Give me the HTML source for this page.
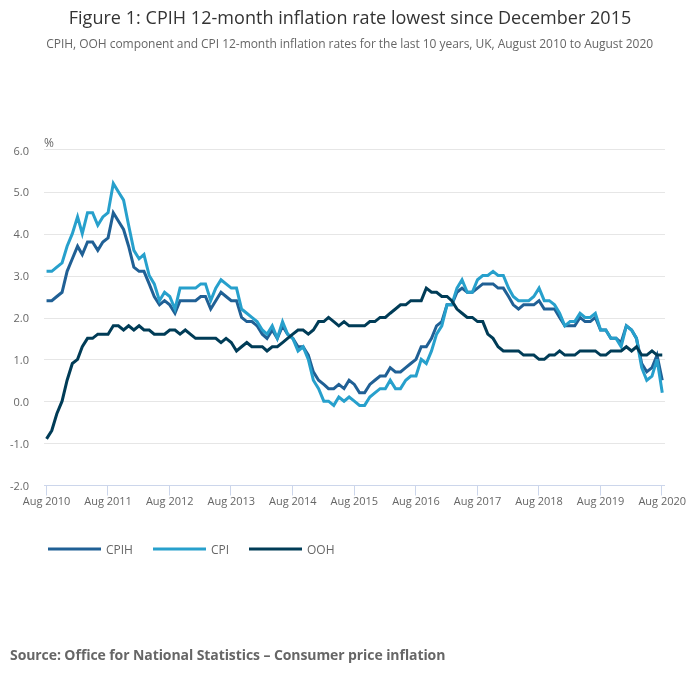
<!DOCTYPE html>
<html><head><meta charset="utf-8"><style>
html,body{margin:0;padding:0;background:#fff;width:700px;height:682px;overflow:hidden}
svg{display:block;will-change:transform;font-family:"Open Sans","Liberation Sans",sans-serif}
</style></head><body>
<svg width="700" height="682" viewBox="0 0 700 682">
<rect width="700" height="682" fill="#fff"/>
<text x="350" y="24" text-anchor="middle" font-size="18" textLength="562.6" lengthAdjust="spacing" fill="#333333">Figure 1: CPIH 12-month inflation rate lowest since December 2015</text>
<text x="349.7" y="48" text-anchor="middle" font-size="12" textLength="606.9" lengthAdjust="spacing" fill="#666666">CPIH, OOH component and CPI 12-month inflation rates for the last 10 years, UK, August 2010 to August 2020</text>
<g><path d="M44 149.5 L665 149.5" stroke="#e6e6e6" stroke-width="1"/><path d="M44 192.5 L665 192.5" stroke="#e6e6e6" stroke-width="1"/><path d="M44 234.5 L665 234.5" stroke="#e6e6e6" stroke-width="1"/><path d="M44 276.5 L665 276.5" stroke="#e6e6e6" stroke-width="1"/><path d="M44 318.5 L665 318.5" stroke="#e6e6e6" stroke-width="1"/><path d="M44 359.5 L665 359.5" stroke="#e6e6e6" stroke-width="1"/><path d="M44 401.5 L665 401.5" stroke="#e6e6e6" stroke-width="1"/><path d="M44 443.5 L665 443.5" stroke="#e6e6e6" stroke-width="1"/></g>
<path d="M44 485.5 L665 485.5" stroke="#ccd6eb" stroke-width="1"/>
<g><path d="M46.5 485.5 L46.5 495.5" stroke="#ccd6eb" stroke-width="1"/><path d="M107.5 485.5 L107.5 495.5" stroke="#ccd6eb" stroke-width="1"/><path d="M169.5 485.5 L169.5 495.5" stroke="#ccd6eb" stroke-width="1"/><path d="M230.5 485.5 L230.5 495.5" stroke="#ccd6eb" stroke-width="1"/><path d="M292.5 485.5 L292.5 495.5" stroke="#ccd6eb" stroke-width="1"/><path d="M354.5 485.5 L354.5 495.5" stroke="#ccd6eb" stroke-width="1"/><path d="M415.5 485.5 L415.5 495.5" stroke="#ccd6eb" stroke-width="1"/><path d="M477.5 485.5 L477.5 495.5" stroke="#ccd6eb" stroke-width="1"/><path d="M538.5 485.5 L538.5 495.5" stroke="#ccd6eb" stroke-width="1"/><path d="M600.5 485.5 L600.5 495.5" stroke="#ccd6eb" stroke-width="1"/><path d="M661.5 485.5 L661.5 495.5" stroke="#ccd6eb" stroke-width="1"/></g>
<text x="44" y="147" font-size="12" fill="#666666" textLength="9.92">%</text>
<g font-size="11" fill="#666666"><text x="29" y="155" text-anchor="end" textLength="15.47">6.0</text><text x="29" y="196" text-anchor="end" textLength="15.47">5.0</text><text x="29" y="238" text-anchor="end" textLength="15.47">4.0</text><text x="29" y="280" text-anchor="end" textLength="15.47">3.0</text><text x="29" y="322" text-anchor="end" textLength="15.47">2.0</text><text x="29" y="364" text-anchor="end" textLength="15.47">1.0</text><text x="29" y="406" text-anchor="end" textLength="15.47">0.0</text><text x="29" y="448" text-anchor="end" textLength="19.02">-1.0</text><text x="29" y="490" text-anchor="end" textLength="19.02">-2.0</text></g>
<g font-size="11" fill="#666666"><text x="46.55" y="505" text-anchor="middle" textLength="47.7">Aug 2010</text><text x="108.07" y="505" text-anchor="middle" textLength="47.7">Aug 2011</text><text x="169.76" y="505" text-anchor="middle" textLength="47.7">Aug 2012</text><text x="231.28" y="505" text-anchor="middle" textLength="47.7">Aug 2013</text><text x="292.80" y="505" text-anchor="middle" textLength="47.7">Aug 2014</text><text x="354.32" y="505" text-anchor="middle" textLength="47.7">Aug 2015</text><text x="416.01" y="505" text-anchor="middle" textLength="47.7">Aug 2016</text><text x="477.53" y="505" text-anchor="middle" textLength="47.7">Aug 2017</text><text x="539.05" y="505" text-anchor="middle" textLength="47.7">Aug 2018</text><text x="600.57" y="505" text-anchor="middle" textLength="47.7">Aug 2019</text><text x="662.26" y="505" text-anchor="middle" textLength="47.7">Aug 2020</text></g>
<g fill="none" stroke-width="3" stroke-linejoin="miter" stroke-linecap="butt">
<path d="M46.55 300.66 L51.78 300.66 L56.83 296.48 L62.06 292.29 L67.11 271.34 L72.34 258.77 L77.56 246.21 L82.28 254.58 L87.51 242.02 L92.56 242.02 L97.79 250.40 L102.85 242.02 L108.07 237.83 L113.30 212.69 L118.35 221.07 L123.58 229.45 L128.63 246.21 L133.86 267.15 L139.08 271.34 L143.97 271.34 L149.20 283.91 L154.25 296.48 L159.48 304.85 L164.53 300.66 L169.76 304.85 L174.99 313.23 L180.04 300.66 L185.27 300.66 L190.32 300.66 L195.55 300.66 L200.77 296.48 L205.49 296.48 L210.72 309.04 L215.77 300.66 L221.00 292.29 L226.06 296.48 L231.28 300.66 L236.51 300.66 L241.56 317.42 L246.79 321.61 L251.84 321.61 L257.07 325.80 L262.29 334.18 L267.01 338.37 L272.24 329.99 L277.29 338.37 L282.52 325.80 L287.58 334.18 L292.80 338.37 L298.03 346.74 L303.08 346.74 L308.31 355.12 L313.36 371.88 L318.59 380.25 L323.81 384.44 L328.53 388.63 L333.76 388.63 L338.82 384.44 L344.04 388.63 L349.10 380.25 L354.32 384.44 L359.55 392.82 L364.60 392.82 L369.83 384.44 L374.89 380.25 L380.11 376.07 L385.34 376.07 L390.22 367.69 L395.45 371.88 L400.50 371.88 L405.73 367.69 L410.79 363.50 L416.01 359.31 L421.24 346.74 L426.29 346.74 L431.52 338.37 L436.57 325.80 L441.80 321.61 L447.02 304.85 L451.74 304.85 L456.97 292.29 L462.03 288.10 L467.25 292.29 L472.31 292.29 L477.53 288.10 L482.76 283.91 L487.81 283.91 L493.04 283.91 L498.10 288.10 L503.32 288.10 L508.55 296.48 L513.26 304.85 L518.49 309.04 L523.55 304.85 L528.77 304.85 L533.83 304.85 L539.05 300.66 L544.28 309.04 L549.33 309.04 L554.56 309.04 L559.62 317.42 L564.84 325.80 L570.07 325.80 L574.79 325.80 L580.01 317.42 L585.07 321.61 L590.29 321.61 L595.35 317.42 L600.57 329.99 L605.80 329.99 L610.86 338.37 L616.08 338.37 L621.14 342.55 L626.36 325.80 L631.59 329.99 L636.48 338.37 L641.70 363.50 L646.76 371.88 L651.98 367.69 L657.04 355.12 L662.26 380.25" stroke="#206095"/>
<path d="M46.55 271.34 L51.78 271.34 L56.83 267.15 L62.06 262.96 L67.11 246.21 L72.34 233.64 L77.56 216.88 L82.28 233.64 L87.51 212.69 L92.56 212.69 L97.79 225.26 L102.85 216.88 L108.07 212.69 L113.30 183.37 L118.35 191.75 L123.58 200.13 L128.63 225.26 L133.86 250.40 L139.08 258.77 L143.97 254.58 L149.20 275.53 L154.25 283.91 L159.48 300.66 L164.53 292.29 L169.76 296.48 L174.99 309.04 L180.04 288.10 L185.27 288.10 L190.32 288.10 L195.55 288.10 L200.77 283.91 L205.49 283.91 L210.72 300.66 L215.77 288.10 L221.00 279.72 L226.06 283.91 L231.28 288.10 L236.51 288.10 L241.56 309.04 L246.79 313.23 L251.84 317.42 L257.07 321.61 L262.29 329.99 L267.01 334.18 L272.24 325.80 L277.29 338.37 L282.52 321.61 L287.58 334.18 L292.80 338.37 L298.03 350.93 L303.08 346.74 L308.31 359.31 L313.36 380.25 L318.59 388.63 L323.81 401.20 L328.53 401.20 L333.76 405.39 L338.82 397.01 L344.04 401.20 L349.10 397.01 L354.32 401.20 L359.55 405.39 L364.60 405.39 L369.83 397.01 L374.89 392.82 L380.11 388.63 L385.34 388.63 L390.22 380.25 L395.45 388.63 L400.50 388.63 L405.73 380.25 L410.79 376.07 L416.01 376.07 L421.24 359.31 L426.29 363.50 L431.52 350.93 L436.57 334.18 L441.80 325.80 L447.02 304.85 L451.74 304.85 L456.97 288.10 L462.03 279.72 L467.25 292.29 L472.31 292.29 L477.53 279.72 L482.76 275.53 L487.81 275.53 L493.04 271.34 L498.10 275.53 L503.32 275.53 L508.55 288.10 L513.26 296.48 L518.49 300.66 L523.55 300.66 L528.77 300.66 L533.83 296.48 L539.05 288.10 L544.28 300.66 L549.33 300.66 L554.56 304.85 L559.62 313.23 L564.84 325.80 L570.07 321.61 L574.79 321.61 L580.01 313.23 L585.07 317.42 L590.29 317.42 L595.35 313.23 L600.57 329.99 L605.80 329.99 L610.86 338.37 L616.08 338.37 L621.14 346.74 L626.36 325.80 L631.59 329.99 L636.48 338.37 L641.70 367.69 L646.76 380.25 L651.98 376.07 L657.04 359.31 L662.26 392.82" stroke="#27a0cc"/>
<path d="M46.55 438.90 L51.78 430.52 L56.83 413.77 L62.06 401.20 L67.11 380.25 L72.34 363.50 L77.56 359.31 L82.28 346.74 L87.51 338.37 L92.56 338.37 L97.79 334.18 L102.85 334.18 L108.07 334.18 L113.30 325.80 L118.35 325.80 L123.58 329.99 L128.63 325.80 L133.86 329.99 L139.08 325.80 L143.97 329.99 L149.20 329.99 L154.25 334.18 L159.48 334.18 L164.53 334.18 L169.76 329.99 L174.99 329.99 L180.04 334.18 L185.27 329.99 L190.32 334.18 L195.55 338.37 L200.77 338.37 L205.49 338.37 L210.72 338.37 L215.77 338.37 L221.00 342.55 L226.06 338.37 L231.28 342.55 L236.51 350.93 L241.56 346.74 L246.79 342.55 L251.84 346.74 L257.07 346.74 L262.29 346.74 L267.01 350.93 L272.24 346.74 L277.29 346.74 L282.52 342.55 L287.58 338.37 L292.80 334.18 L298.03 329.99 L303.08 329.99 L308.31 334.18 L313.36 329.99 L318.59 321.61 L323.81 321.61 L328.53 317.42 L333.76 321.61 L338.82 325.80 L344.04 321.61 L349.10 325.80 L354.32 325.80 L359.55 325.80 L364.60 325.80 L369.83 321.61 L374.89 321.61 L380.11 317.42 L385.34 317.42 L390.22 313.23 L395.45 309.04 L400.50 304.85 L405.73 304.85 L410.79 300.66 L416.01 300.66 L421.24 300.66 L426.29 288.10 L431.52 292.29 L436.57 292.29 L441.80 296.48 L447.02 296.48 L451.74 300.66 L456.97 309.04 L462.03 313.23 L467.25 317.42 L472.31 317.42 L477.53 321.61 L482.76 321.61 L487.81 334.18 L493.04 338.37 L498.10 346.74 L503.32 350.93 L508.55 350.93 L513.26 350.93 L518.49 350.93 L523.55 355.12 L528.77 355.12 L533.83 355.12 L539.05 359.31 L544.28 359.31 L549.33 355.12 L554.56 355.12 L559.62 350.93 L564.84 355.12 L570.07 355.12 L574.79 355.12 L580.01 350.93 L585.07 350.93 L590.29 350.93 L595.35 350.93 L600.57 355.12 L605.80 355.12 L610.86 350.93 L616.08 350.93 L621.14 350.93 L626.36 346.74 L631.59 350.93 L636.48 346.74 L641.70 355.12 L646.76 355.12 L651.98 350.93 L657.04 355.12 L662.26 355.12" stroke="#003c57"/>
</g>
<g font-size="12" fill="#666666">
<path d="M48 548.9 L101 548.9" stroke="#206095" stroke-width="3"/>
<text x="106" y="554" textLength="26.98">CPIH</text>
<path d="M153 548.9 L206 548.9" stroke="#27a0cc" stroke-width="3"/>
<text x="211" y="554" textLength="18.14">CPI</text>
<path d="M249 548.9 L302 548.9" stroke="#003c57" stroke-width="3"/>
<text x="307" y="554" textLength="27.52">OOH</text>
</g>
<text x="10" y="660" font-size="14" font-weight="bold" textLength="435.4" lengthAdjust="spacing" fill="#666666">Source: Office for National Statistics – Consumer price inflation</text>
</svg>
</body></html>
